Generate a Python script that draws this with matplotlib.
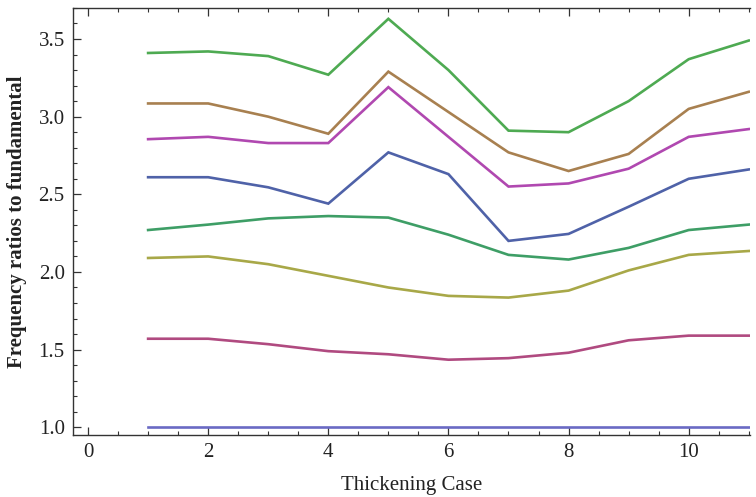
import matplotlib
matplotlib.use("Agg")
import matplotlib.pyplot as plt
from matplotlib.ticker import MultipleLocator, FormatStrFormatter

cases = list(range(1, 12))

mode1 = [1.0] * 11
mode2 = [1.57, 1.57, 1.535, 1.49, 1.47, 1.435, 1.445, 1.48, 1.56, 1.59, 1.59]
mode3 = [2.09, 2.10, 2.05, 1.975, 1.90, 1.846, 1.835, 1.88, 2.01, 2.11, 2.135]
mode4 = [2.27, 2.305, 2.345, 2.36, 2.35, 2.24, 2.11, 2.08, 2.155, 2.27, 2.305]
mode5 = [2.61, 2.61, 2.545, 2.44, 2.77, 2.63, 2.20, 2.245, 2.42, 2.60, 2.66]
mode6 = [2.855, 2.87, 2.83, 2.83, 3.19, 2.87, 2.55, 2.57, 2.665, 2.87, 2.92]
mode7 = [3.085, 3.085, 3.00, 2.89, 3.29, 3.03, 2.77, 2.65, 2.76, 3.05, 3.16]
mode8 = [3.41, 3.42, 3.39, 3.27, 3.63, 3.30, 2.91, 2.90, 3.10, 3.37, 3.49]

series = [mode1, mode2, mode3, mode4, mode5, mode6, mode7, mode8]
colors = ["#6a6ac4", "#b04a80", "#a8a848", "#3e9e66", "#4f62a8",
          "#b048b0", "#a88050", "#4eaa52"]

plt.rcParams["font.family"] = ["Liberation Serif", "DejaVu Serif"]

fig = plt.figure(figsize=(7.56, 4.97), dpi=100)
ax = fig.add_axes([0.0966, 0.1247, 0.8954, 0.8593])

for vals, c in zip(series, colors):
    ax.plot(cases, vals, color=c, lw=1.9, solid_joinstyle="miter")

ax.set_xlim(-0.25, 11.02)
ax.set_ylim(0.95, 3.70)

ax.xaxis.set_major_locator(MultipleLocator(2))
ax.xaxis.set_minor_locator(MultipleLocator(0.5))
ax.yaxis.set_major_locator(MultipleLocator(0.5))
ax.yaxis.set_minor_locator(MultipleLocator(0.1))
ax.yaxis.set_major_formatter(FormatStrFormatter("%.1f"))

ax.spines["right"].set_visible(False)
for s in ["left", "bottom", "top"]:
    ax.spines[s].set_linewidth(1.0)
    ax.spines[s].set_color("#333333")

ax.tick_params(axis="both", which="major", direction="in", length=6, width=0.9,
               labelsize=15, colors="#333333", labelcolor="#222222", pad=6)
ax.tick_params(axis="both", which="minor", direction="in", length=3, width=0.8,
               colors="#333333")
ax.tick_params(axis="x", top=True, which="both")
ax.tick_params(axis="y", right=False, which="both")

ax.set_xlabel("Thickening Case", fontsize=15, color="#222222", labelpad=10)
ax.set_ylabel("Frequency ratios to fundamental", fontsize=15, fontweight="bold",
              color="#222222", labelpad=8)

fig.savefig("out.png", dpi=100)
